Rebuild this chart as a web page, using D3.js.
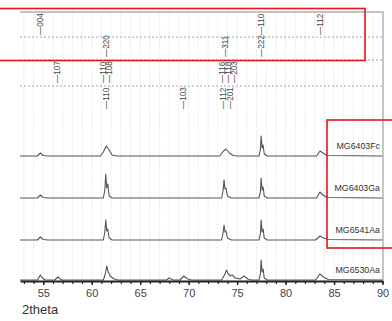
<!DOCTYPE html>
<html>
<head>
<meta charset="utf-8">
<script src="https://cdn.jsdelivr.net/npm/d3@7"></script>
<style>
  body { margin: 0; background: #fff; }
  svg { display: block; font-family: "Liberation Sans", Arial, sans-serif; }
</style>
</head>
<body>
<div id="chart"></div>
<script>
// 2theta tick labels
const xTicks = [55, 60, 65, 70, 75, 80, 85, 90];
const minorTicks = d3.range(53, 91);

// sample names, top to bottom, and their vertical offsets (intensity units)
const seriesNames = ['MG6403Fc', 'MG6403Ga', 'MG6541Aa', 'MG6530Aa'];
const seriesOffsets = [125, 83, 41, 1];

// [2theta, intensity]
const fcPoints = [
  [52.6, 0], [54.4, 0], [54.7, 3], [55.0, 0.5], [55.5, 0],
  [60.9, 0], [61.2, 4], [61.5, 10], [61.8, 6], [62.1, 1], [62.6, 0],
  [73.2, 0], [73.6, 5], [73.85, 7], [74.2, 3], [74.6, 0.5], [75.0, 0],
  [77.25, 0], [77.4, 6], [77.48, 20], [77.58, 8], [77.68, 11], [77.8, 2], [78.1, 0],
  [83.2, 0], [83.55, 5], [83.85, 3], [84.3, 0.5], [90, 0]
];
const gaPoints = [
  [52.6, 0], [54.4, 0], [54.7, 3], [55.0, 0.5], [55.5, 0],
  [61.2, 0], [61.35, 8], [61.45, 24], [61.55, 10], [61.65, 14], [61.8, 2], [62.1, 0],
  [73.4, 0], [73.55, 7], [73.65, 18], [73.75, 9], [73.85, 10], [74.0, 2], [74.4, 0],
  [77.25, 0], [77.4, 6], [77.48, 20], [77.58, 8], [77.68, 11], [77.8, 2], [78.1, 0],
  [83.2, 0], [83.55, 6], [83.85, 3], [84.3, 0.5], [90, 0]
];
const aa41Points = [
  [52.6, 0], [54.4, 0], [54.7, 3], [55.0, 0.5], [55.5, 0],
  [61.2, 0], [61.35, 8], [61.45, 20], [61.55, 9], [61.65, 11], [61.8, 2], [62.1, 0],
  [73.4, 0], [73.55, 7], [73.65, 15], [73.75, 8], [73.85, 9], [74.0, 2], [74.4, 0],
  [77.25, 0], [77.4, 6], [77.48, 20], [77.58, 8], [77.68, 11], [77.8, 2], [78.1, 0],
  [83.1, 0], [83.55, 4], [83.9, 2], [84.4, 0.5], [90, 0]
];
const aa30Points = [
  [52.6, 0], [54.4, 0], [54.7, 5], [54.9, 2], [55.2, 0],
  [56.2, 0], [56.5, 3], [56.9, 0],
  [61.2, 0], [61.4, 6], [61.55, 14], [61.7, 8], [61.9, 4], [62.3, 1], [62.7, 0],
  [67.7, 0], [68.0, 2], [68.4, 0], [69.1, 0], [69.5, 4], [69.9, 1], [70.3, 0],
  [73.4, 0], [73.75, 6], [73.9, 10], [74.1, 6], [74.3, 4], [74.5, 5], [74.8, 2], [75.3, 1],
  [75.7, 4], [76.1, 1], [76.5, 0],
  [77.25, 0], [77.4, 6], [77.48, 20], [77.58, 8], [77.68, 11], [77.8, 2], [78.1, 0],
  [83.1, 0], [83.55, 6], [83.9, 3], [84.4, 0.5], [90, 0]
];
const seriesPoints = [fcPoints, gaPoints, aa41Points, aa30Points];

// hkl reflections written above the patterns, row 0 is the top strip
const peakLabels = [
  { text: '\u2014004', theta: 54.65, row: 0 },
  { text: '\u2014110', theta: 77.5, row: 0 },
  { text: '\u2014112', theta: 83.55, row: 0 },
  { text: '\u2014220', theta: 61.5, row: 1 },
  { text: '\u2014311', theta: 73.8, row: 1 },
  { text: '\u2014222', theta: 77.5, row: 1 },
  { text: '\u2014107', theta: 56.4, row: 2 },
  { text: '\u2014110', theta: 61.2, row: 2 },
  { text: '\u2014108', theta: 61.75, row: 2 },
  { text: '\u2014116', theta: 73.5, row: 2 },
  { text: '\u2014118', theta: 74.05, row: 2 },
  { text: '\u2014203', theta: 74.65, row: 2 },
  { text: '\u2014110', theta: 61.5, row: 3 },
  { text: '\u2014103', theta: 69.4, row: 3 },
  { text: '\u2014112', theta: 73.6, row: 3 },
  { text: '\u2014201', theta: 74.25, row: 3 }
];

const width = 392, height = 321;
const plotLeft = 20, plotRight = 383, plotTop = 12, plotBottom = 281;

const svg = d3.select('#chart').append('svg')
  .attr('width', width)
  .attr('height', height);

svg.append('rect').attr('width', width).attr('height', height).attr('fill', '#fff');

const x = d3.scaleLinear().domain([52.6, 90]).range([plotLeft, 382.5]);
const y = d3.scaleLinear().domain([0, 269]).range([plotBottom, plotTop]);

// vertical grid every degree
svg.append('g')
  .selectAll('line')
  .data(minorTicks)
  .enter().append('line')
  .attr('x1', d => x(d)).attr('x2', d => x(d))
  .attr('y1', plotTop).attr('y2', plotBottom)
  .attr('stroke', '#d4d4d4')
  .attr('stroke-width', 0.8)
  .attr('stroke-dasharray', '1,1.5');

// strip separators for the hkl rows
const rowLines = [37, 60, 86];
svg.append('g')
  .selectAll('line')
  .data(rowLines)
  .enter().append('line')
  .attr('x1', plotLeft).attr('x2', plotRight)
  .attr('y1', d => d).attr('y2', d => d)
  .attr('stroke', '#9a9a9a')
  .attr('stroke-width', 0.9)
  .attr('stroke-dasharray', '2,2');

// frame top / right
svg.append('path')
  .attr('d', `M${plotLeft},${plotTop}H${plotRight}V${plotBottom}`)
  .attr('fill', 'none')
  .attr('stroke', '#b0b0b0')
  .attr('stroke-width', 1.4);

// hkl labels
const rowBase = [35, 57, 83, 109];
svg.append('g')
  .selectAll('text')
  .data(peakLabels)
  .enter().append('text')
  .attr('transform', d => 'translate(' + x(d.theta) + ',' + rowBase[d.row] + ') rotate(-90)')
  .attr('dy', '0.35em')
  .attr('font-size', 8.2)
  .attr('fill', '#444')
  .text(d => d.text);

// patterns
const line = d3.line()
  .x(d => x(d[0]))
  .y(d => d[1]);

seriesPoints.forEach((pts, i) => {
  const off = seriesOffsets[i];
  svg.append('path')
    .datum(pts.map(p => [p[0], y(p[1] + off)]))
    .attr('fill', 'none')
    .attr('stroke', '#555')
    .attr('stroke-width', 1.1)
    .attr('stroke-linejoin', 'round')
    .attr('d', line);

  svg.append('text')
    .attr('x', 380)
    .attr('y', y(off) - 7)
    .attr('text-anchor', 'end')
    .attr('font-size', 8.8)
    .attr('fill', '#333')
    .text(seriesNames[i]);
});

// x axis, minor then major
const minorAxis = svg.append('g')
  .attr('transform', 'translate(0,' + plotBottom + ')')
  .call(d3.axisBottom(x).tickValues(minorTicks).tickSize(3).tickFormat(''));
minorAxis.select('.domain').remove();
minorAxis.selectAll('line').attr('stroke', '#222').attr('stroke-width', 1.2);

const majorAxis = svg.append('g')
  .attr('transform', 'translate(0,' + plotBottom + ')')
  .call(d3.axisBottom(x).tickValues(xTicks).tickSize(4).tickSizeOuter(0).tickPadding(4).tickFormat(d3.format('d')));
majorAxis.select('.domain').attr('stroke', '#222').attr('stroke-width', 2);
majorAxis.selectAll('line').attr('stroke', '#222').attr('stroke-width', 1.4);
majorAxis.selectAll('text')
  .attr('font-size', 11)
  .attr('fill', '#444')
  .style('font-family', '"Liberation Sans", Arial, sans-serif');

svg.append('text')
  .attr('x', 22)
  .attr('y', 314)
  .attr('font-size', 13)
  .attr('fill', '#333')
  .text('2theta');

// red annotation boxes
svg.append('rect')
  .attr('x', -2).attr('y', 8.5)
  .attr('width', 367).attr('height', 52)
  .attr('fill', 'none')
  .attr('stroke', '#e8141c')
  .attr('stroke-width', 1.6);
svg.append('rect')
  .attr('x', 327).attr('y', 120)
  .attr('width', 70).attr('height', 128)
  .attr('fill', 'none')
  .attr('stroke', '#e8141c')
  .attr('stroke-width', 1.6);
</script>
</body>
</html>
